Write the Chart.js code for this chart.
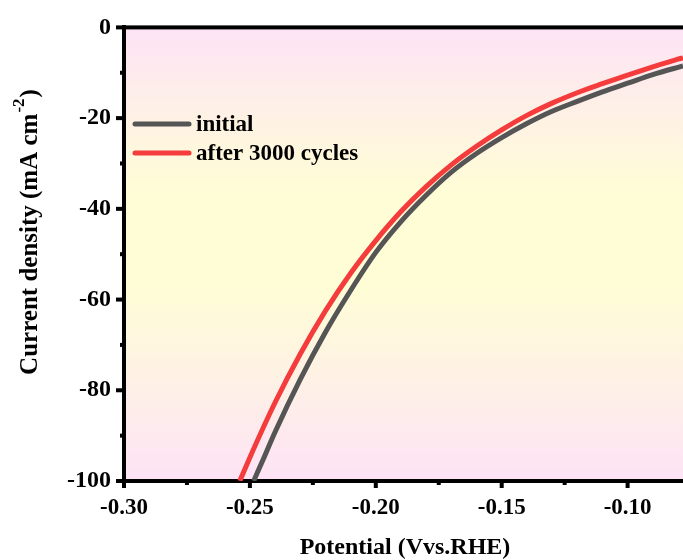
<!DOCTYPE html>
<html>
<head>
<meta charset="utf-8">
<script src="https://cdn.jsdelivr.net/npm/chart.js@4.4.1/dist/chart.umd.min.js"></script>
<style>
html,body{margin:0;padding:0;background:#fff;overflow:hidden;}
#wrap{width:683px;height:560px;position:relative;}
</style>
</head>
<body>
<div id="wrap"><canvas id="c" width="683" height="560"></canvas></div>
<script>
// ---- data ----
const seriesNames = ["initial", "after 3000 cycles"];
const initialX = [-0.2485, -0.245, -0.240, -0.230, -0.220, -0.210, -0.200, -0.190, -0.180, -0.170, -0.160, -0.150, -0.140, -0.130, -0.120, -0.110, -0.100, -0.090, -0.080, -0.078];
const initialY = [-100, -95.6, -89.2, -77.6, -67.2, -58.0, -49.6, -42.8, -37.0, -31.9, -27.8, -24.3, -21.2, -18.5, -16.3, -14.2, -12.3, -10.4, -8.8, -8.5];
const cyclesX = [-0.2540, -0.250, -0.240, -0.230, -0.220, -0.210, -0.200, -0.190, -0.180, -0.170, -0.160, -0.150, -0.140, -0.130, -0.120, -0.110, -0.100, -0.090, -0.080, -0.078];
const cyclesY = [-100, -94.8, -82.7, -72.0, -62.5, -54.2, -47.0, -40.6, -35.1, -30.3, -26.2, -22.6, -19.4, -16.7, -14.4, -12.4, -10.5, -8.7, -7.0, -6.7];
const xTicks = [-0.30, -0.25, -0.20, -0.15, -0.10];
const xMinorTicks = [-0.275, -0.225, -0.175, -0.125];
const yTicks = [-100, -80, -60, -40, -20, 0];
const yMinorTicks = [-90, -70, -50, -30, -10];
const xRange = [-0.30, -0.078];
const yRange = [-100, 0];
const xTitle = "Potential (Vvs.RHE)";
const yTitleMain = "Current density (mA cm";
const yTitleSup = "-2";
const yTitleEnd = ")";

const FONT = "'Liberation Serif', 'Times New Roman', serif";
const colors = ["#555555", "#f53c3c"];

function pts(xs, ys){ return xs.map((x,i)=>({x:x, y:ys[i]})); }

const decoPlugin = {
  id: 'deco',
  beforeDraw(chart){
    const {ctx, chartArea:a} = chart;
    const g = ctx.createLinearGradient(0, a.top, 0, a.bottom);
    g.addColorStop(0, '#fde3f6');
    g.addColorStop(0.36, '#fffdd6');
    g.addColorStop(0.58, '#fffdd6');
    g.addColorStop(1, '#fde3f6');
    ctx.save();
    ctx.fillStyle = g;
    ctx.fillRect(a.left, a.top, a.right - a.left, a.bottom - a.top);
    ctx.restore();
  },
  afterDraw(chart){
    const {ctx, chartArea:a, scales} = chart;
    const xs = scales.x, ys = scales.y;
    ctx.save();
    ctx.fillStyle = '#000';
    // top border
    ctx.fillRect(a.left - 2, a.top - 2, a.right - a.left + 2, 4);
    // x ticks
    xTicks.forEach(v=>{ const px = xs.getPixelForValue(v); ctx.fillRect(px-2, a.bottom, 4, 7); });
    xMinorTicks.forEach(v=>{ const px = xs.getPixelForValue(v); ctx.fillRect(px-2, a.bottom, 4, 4); });
    // y ticks
    yTicks.forEach(v=>{ const py = ys.getPixelForValue(v); ctx.fillRect(a.left-8, py-2, 8, 4); });
    yMinorTicks.forEach(v=>{ const py = ys.getPixelForValue(v); ctx.fillRect(a.left-4, py-2, 4, 4); });

    // legend
    ctx.lineCap = 'round';
    ctx.lineWidth = 5;
    ctx.font = "bold 23px " + FONT;
    ctx.textBaseline = 'middle';
    ctx.textAlign = 'left';
    const ly = [124, 153];
    chart.data.datasets.forEach((ds, i)=>{
      ctx.strokeStyle = ds.borderColor;
      ctx.beginPath(); ctx.moveTo(135, ly[i]); ctx.lineTo(189, ly[i]); ctx.stroke();
      ctx.fillStyle = '#000';
      ctx.fillText(ds.label, 196, ly[i] + 1);
    });

    // x title
    ctx.font = "bold 24px " + FONT;
    ctx.textAlign = 'center';
    ctx.textBaseline = 'middle';
    ctx.fillText(xTitle, 405, 548);

    // y title (rotated, with superscript)
    ctx.translate(31, 232);
    ctx.rotate(-Math.PI/2);
    const mainFont = "bold 25px " + FONT, supFont = "bold 17px " + FONT;
    ctx.font = mainFont; const w1 = ctx.measureText(yTitleMain).width; const w3 = ctx.measureText(yTitleEnd).width;
    ctx.font = supFont; const w2 = ctx.measureText(yTitleSup).width;
    const total = w1 + w2 + w3 + 2;
    let sx = -total/2;
    ctx.textAlign = 'left';
    ctx.font = mainFont; ctx.fillText(yTitleMain, sx, 0); sx += w1 + 1;
    ctx.font = supFont; ctx.fillText(yTitleSup, sx, -11); sx += w2 + 1;
    ctx.font = mainFont; ctx.fillText(yTitleEnd, sx, 0);
    ctx.restore();
  }
};

new Chart(document.getElementById('c'), {
  type: 'line',
  data: {
    datasets: [
      { label: seriesNames[0], data: pts(initialX, initialY), borderColor: colors[0], borderWidth: 5, pointRadius: 0, cubicInterpolationMode: 'monotone', fill: false, order: 2 },
      { label: seriesNames[1], data: pts(cyclesX, cyclesY), borderColor: colors[1], borderWidth: 5, pointRadius: 0, cubicInterpolationMode: 'monotone', fill: false, order: 1 }
    ]
  },
  options: {
    responsive: false,
    animation: false,
    devicePixelRatio: 1,
    layout: { padding: { top: 23, right: 0, left: 0, bottom: 0 } },
    plugins: { legend: { display: false }, tooltip: { enabled: false } },
    scales: {
      x: {
        type: 'linear', min: xRange[0], max: xRange[1],
        afterBuildTicks: s => { s.ticks = xTicks.map(v=>({value:v})); },
        afterFit: s => { s.height = 79; },
        grid: { display: false, drawTicks: false },
        border: { display: true, color: '#000', width: 4 },
        ticks: { color: '#000', padding: 13, maxRotation: 0, autoSkip: false, font: { family: FONT, size: 23, weight: 'bold' }, callback: v => v.toFixed(2) }
      },
      y: {
        type: 'linear', min: yRange[0], max: yRange[1],
        afterBuildTicks: s => { s.ticks = yTicks.map(v=>({value:v})); },
        afterFit: s => { s.width = 124; },
        grid: { display: false, drawTicks: false },
        border: { display: true, color: '#000', width: 4 },
        ticks: { color: '#000', padding: 13, autoSkip: false, font: { family: FONT, size: 24, weight: 'bold' }, callback: v => String(v) }
      }
    }
  },
  plugins: [decoPlugin]
});
</script>
</body>
</html>
